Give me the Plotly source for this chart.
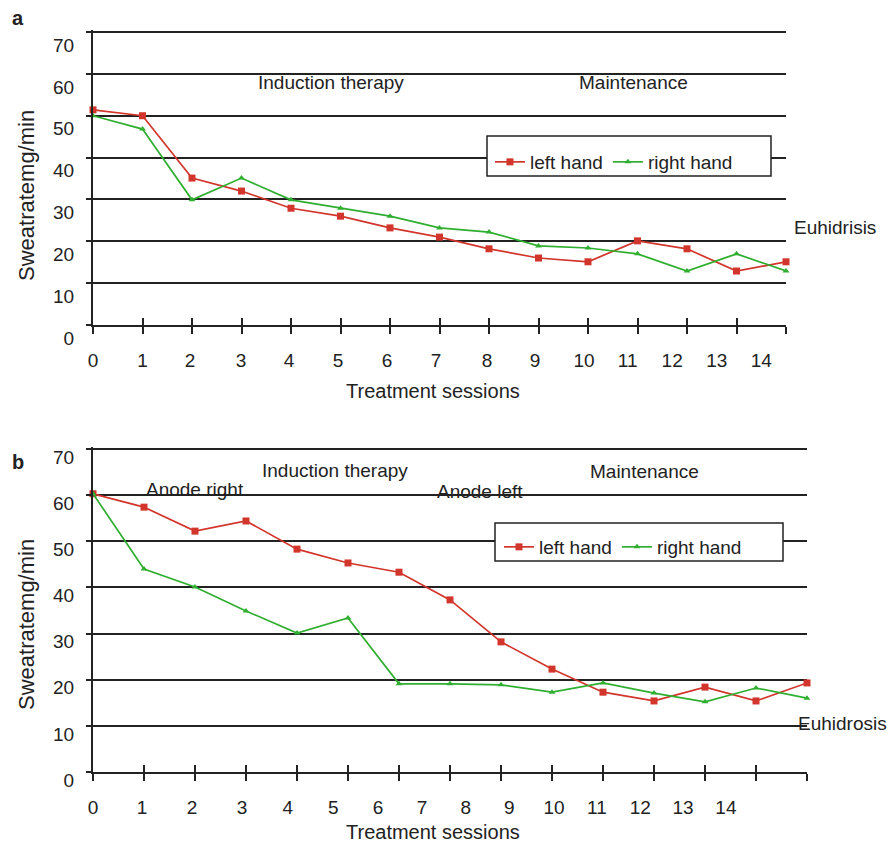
import plotly.graph_objects as go

W, H = 890, 846

# ---------------- data ----------------
sessions = list(range(15))
session_labels = [str(i) for i in range(15)]
y_ticks = [0, 10, 20, 30, 40, 50, 60, 70]
y_tick_labels = [str(v) for v in y_ticks]

left_hand_a = [51.4, 50.0, 35.1, 32.0, 27.9, 26.0, 23.2, 21.0, 18.2, 16.0, 15.1, 20.1, 18.2, 12.9, 15.1]
right_hand_a = [50.0, 46.8, 29.9, 35.1, 29.9, 27.9, 26.0, 23.2, 22.2, 18.9, 18.4, 17.0, 12.9, 17.0, 12.9]

left_hand_b = [60.3, 57.4, 52.2, 54.4, 48.3, 45.3, 43.3, 37.3, 28.2, 22.3, 17.3, 15.4, 18.4, 15.4, 19.3]
right_hand_b = [60.3, 44.0, 40.1, 34.9, 30.1, 33.4, 19.1, 19.1, 18.9, 17.3, 19.3, 17.1, 15.2, 18.2, 16.0]

# layout: where the (misaligned) session labels sit along each axis
label_pos_a = [0.0, 1.0, 1.96, 2.99, 3.96, 4.95, 5.94, 6.93, 7.96, 8.93, 9.92, 10.8, 11.7, 12.6, 13.5]
label_pos_b = [0.0, 0.96, 1.94, 2.92, 3.82, 4.71, 5.59, 6.45, 7.31, 8.16, 9.04, 9.88, 10.73, 11.57, 12.41]

RED = "#d2352b"
GREEN = "#2fae2f"
INK = "#222222"
FONT = "Liberation Sans, Arial, sans-serif"
FS = 19
YTOP = 70.4  # a hair above 70 so the top gridline is kept


def px_x(p):
    return p / W


def px_y(p):
    return 1 - p / H


fig = go.Figure()

# panel a traces
fig.add_trace(go.Scatter(x=sessions, y=left_hand_a, name="left hand", mode="lines+markers",
                         line=dict(color=RED, width=1.7), marker=dict(symbol="square", size=7, color=RED),
                         xaxis="x", yaxis="y", legend="legend", cliponaxis=False))
fig.add_trace(go.Scatter(x=sessions, y=right_hand_a, name="right hand", mode="lines+markers",
                         line=dict(color=GREEN, width=1.7), marker=dict(symbol="triangle-up", size=6, color=GREEN),
                         xaxis="x", yaxis="y", legend="legend", cliponaxis=False))
# panel b traces
fig.add_trace(go.Scatter(x=sessions, y=left_hand_b, name="left hand", mode="lines+markers",
                         line=dict(color=RED, width=1.7), marker=dict(symbol="square", size=7, color=RED),
                         xaxis="x2", yaxis="y2", legend="legend2", cliponaxis=False))
fig.add_trace(go.Scatter(x=sessions, y=right_hand_b, name="right hand", mode="lines+markers",
                         line=dict(color=GREEN, width=1.7), marker=dict(symbol="triangle-up", size=6, color=GREEN),
                         xaxis="x2", yaxis="y2", legend="legend2", cliponaxis=False))

# dummy traces so overlay axes get drawn
for xa, ya in [("x3", "y"), ("x5", "y"), ("x4", "y2"), ("x6", "y2")]:
    fig.add_trace(go.Scatter(x=[None], y=[None], xaxis=xa, yaxis=ya, showlegend=False,
                             hoverinfo="skip", mode="markers"))

# plot areas (page pixels)
top_a = 325 - (325 - 32) / 70 * YTOP
top_b = 772 - (772 - 449) / 70 * YTOP
dom_a_x = [px_x(93), px_x(786)]
dom_b_x = [px_x(93), px_x(807)]
dom_a_y = [px_y(325), px_y(top_a)]
dom_b_y = [px_y(772), px_y(top_b)]

base_x = dict(range=[0, 14], showgrid=False, zeroline=False, showline=True, linecolor=INK, linewidth=2,
              ticks="outside", ticklen=7, tickwidth=1.6, tickcolor=INK, tickvals=sessions,
              showticklabels=False, automargin=False)
in_x = dict(range=[0, 14], showgrid=False, zeroline=False, showline=False,
            ticks="inside", ticklen=7, tickwidth=1.6, tickcolor=INK, tickvals=sessions,
            showticklabels=False, automargin=False)
lab_x = dict(range=[0, 14], showgrid=False, zeroline=False, showline=False, ticks="",
             ticktext=session_labels, tickfont=dict(family=FONT, size=FS, color=INK),
             ticklabelstandoff=22, automargin=False)
base_y = dict(range=[0, YTOP], tickvals=y_ticks, ticktext=y_tick_labels, showgrid=True, gridcolor=INK,
              gridwidth=1.6, zeroline=False, showline=True, linecolor=INK, linewidth=2,
              ticks="outside", ticklen=5, tickwidth=1.6, tickcolor=INK,
              tickfont=dict(family=FONT, size=FS, color=INK), ticklabelstandoff=8, automargin=False)

leg_common = dict(xanchor="left", yanchor="top", orientation="h", bgcolor="rgba(0,0,0,0)",
                  borderwidth=0, font=dict(family=FONT, size=FS, color=INK), itemclick=False,
                  itemdoubleclick=False)

fig.update_layout(
    width=W, height=H, margin=dict(l=0, r=0, t=0, b=0, autoexpand=False),
    paper_bgcolor="white", plot_bgcolor="white",
    font=dict(family=FONT, size=FS, color=INK),
    xaxis=dict(base_x, domain=dom_a_x, anchor="y"),
    xaxis3=dict(in_x, domain=dom_a_x, anchor="y", overlaying="x"),
    xaxis5=dict(lab_x, domain=dom_a_x, anchor="y", overlaying="x", tickvals=label_pos_a),
    yaxis=dict(base_y, domain=dom_a_y, anchor="x", ticklabelshift=13),
    xaxis2=dict(base_x, domain=dom_b_x, anchor="y2"),
    xaxis4=dict(in_x, domain=dom_b_x, anchor="y2", overlaying="x2"),
    xaxis6=dict(lab_x, domain=dom_b_x, anchor="y2", overlaying="x2", tickvals=label_pos_b),
    yaxis2=dict(base_y, domain=dom_b_y, anchor="x2", ticklabelshift=8),
    legend=dict(leg_common, x=px_x(490), y=px_y(143)),
    legend2=dict(leg_common, x=px_x(499), y=px_y(528)),
    showlegend=True,
    hovermode=False,
)

# legend frames (white boxes that interrupt the gridlines)
for x0, y0, x1, y1 in [(487, 136, 771, 176), (495, 523, 783, 561)]:
    fig.add_shape(type="rect", xref="paper", yref="paper", x0=px_x(x0), x1=px_x(x1),
                  y0=px_y(y1), y1=px_y(y0), line=dict(color=INK, width=1.5),
                  fillcolor="white", layer="above")


def note(text, x, y, xanchor="center", size=FS, bold=False, angle=0):
    fig.add_annotation(text=f"<b>{text}</b>" if bold else text, xref="paper", yref="paper",
                       x=px_x(x), y=px_y(y), xanchor=xanchor, yanchor="middle",
                       showarrow=False, textangle=angle,
                       font=dict(family=FONT, size=size, color=INK))


# panel a texts
note("a", 18, 18, size=20, bold=True)
note("Induction therapy", 331, 83)
note("Maintenance", 633, 83)
note("Euhidrisis", 792, 228, xanchor="left")
note("Treatment sessions", 433, 391, size=20)
note("Sweatratemg/min", 26, 196, size=22, angle=-90)

# panel b texts
note("b", 18, 462, size=20, bold=True)
note("Induction therapy", 335, 470)
note("Anode right", 195, 489)
note("Anode left", 480, 492)
note("Maintenance", 644, 471)
note("Euhidrosis", 796, 723, xanchor="left")
note("Treatment sessions", 433, 832, size=20)
note("Sweatratemg/min", 26, 625, size=22, angle=-90)

fig.write_html("out.html", config={"displayModeBar": False, "staticPlot": False},
               post_script="document.body.style.margin='0';")
